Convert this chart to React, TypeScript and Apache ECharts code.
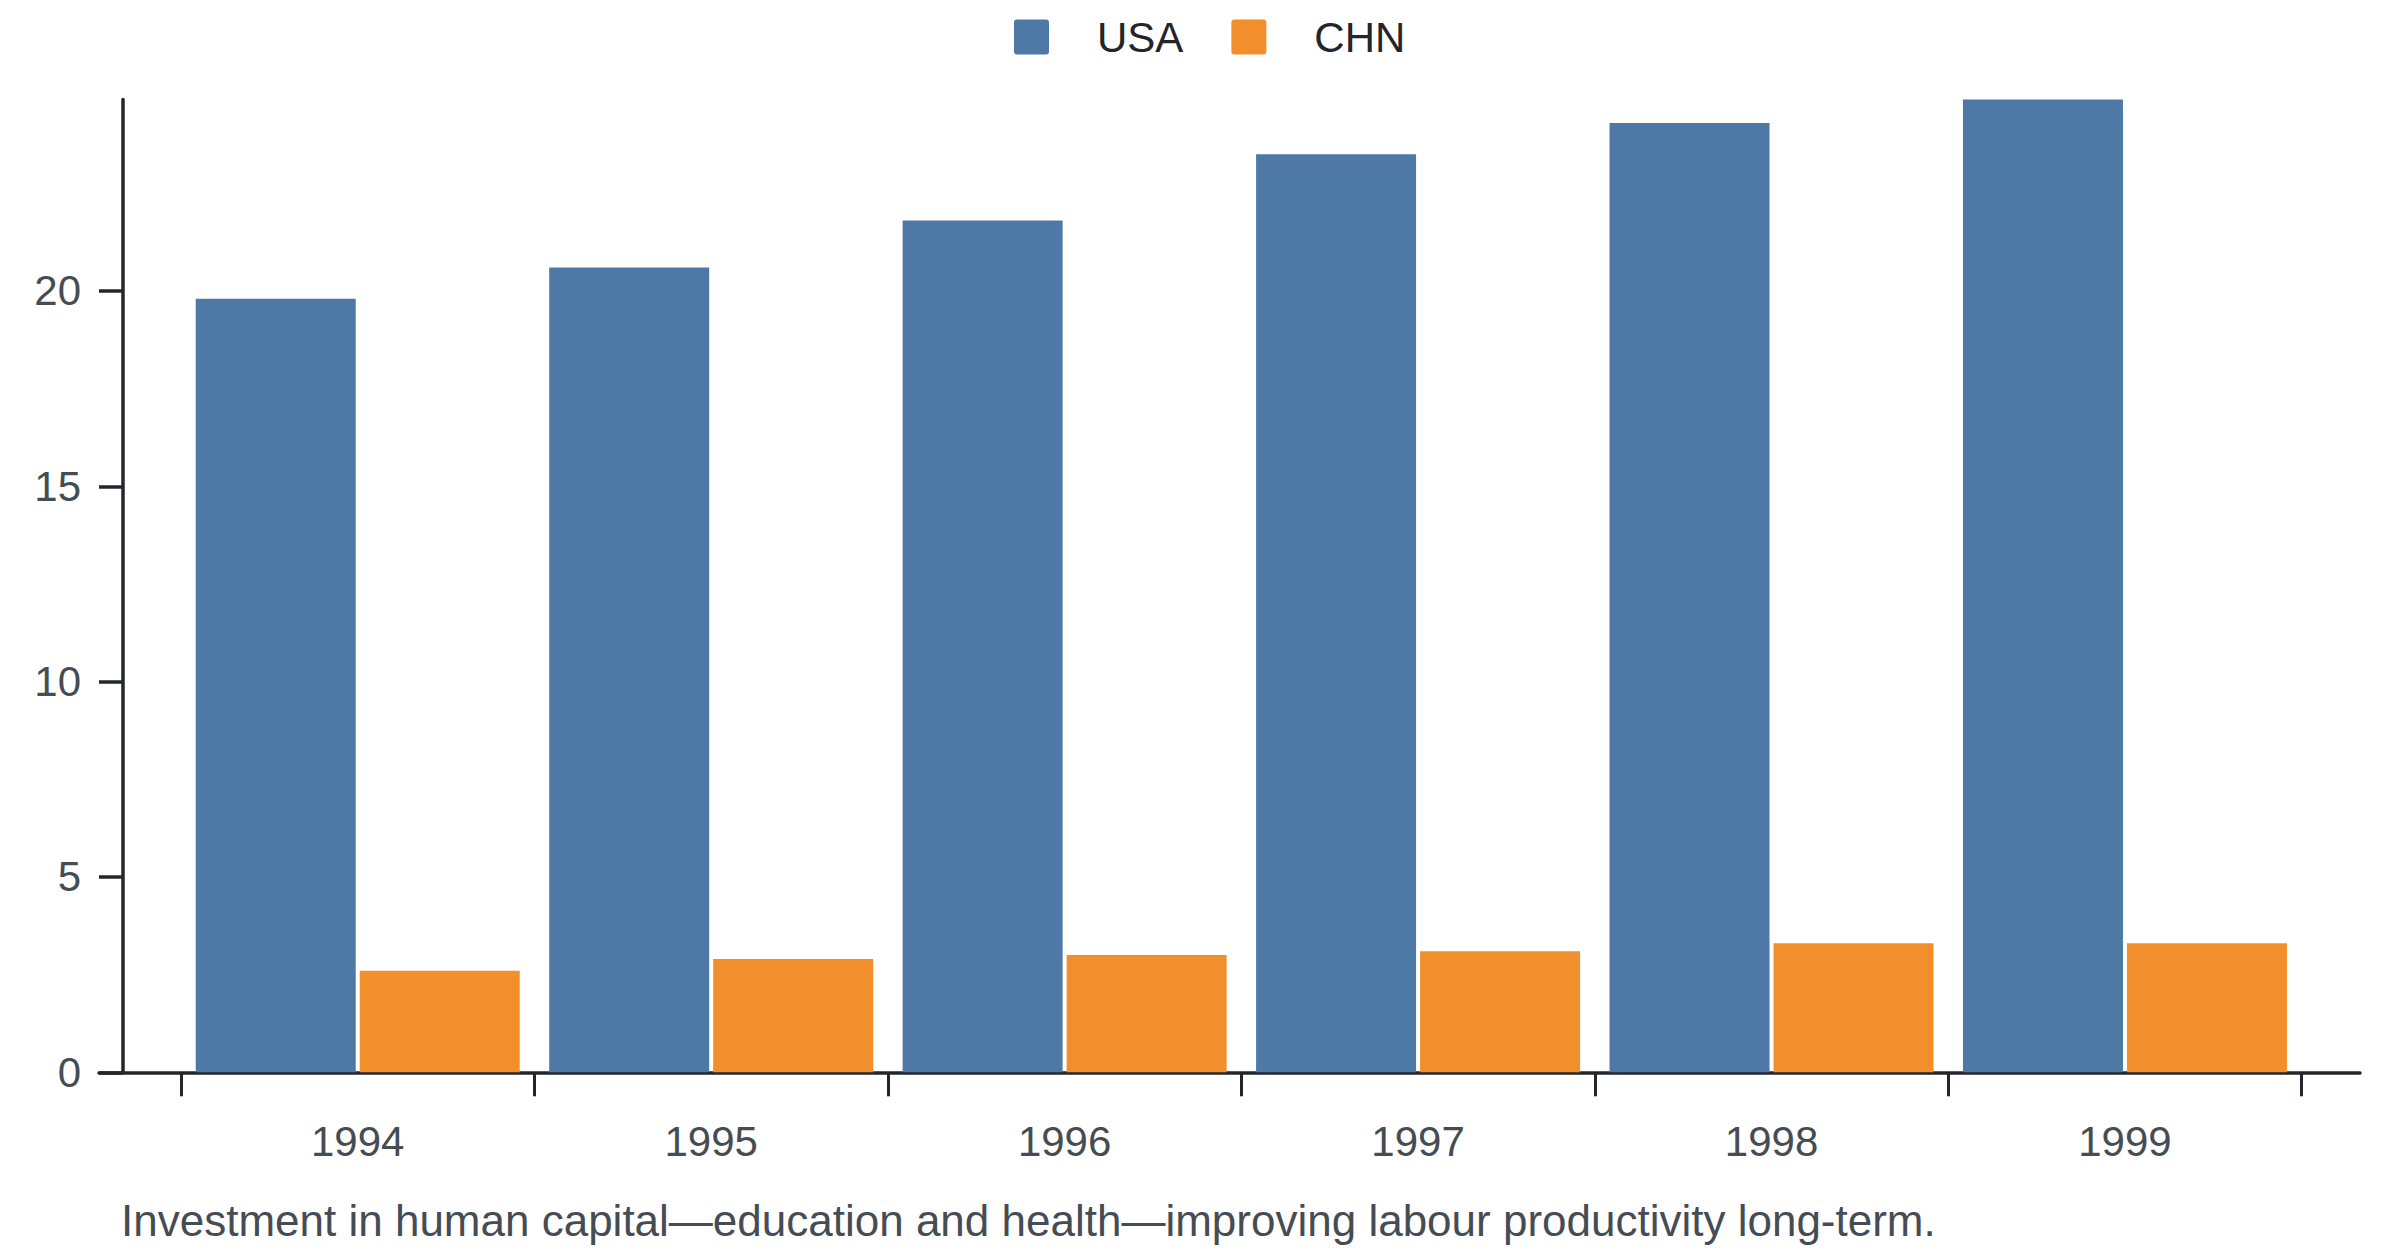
import React, { useEffect, useRef } from "react";
import * as echarts from "echarts";

const years = ["1994", "1995", "1996", "1997", "1998", "1999"];
const usaValues = [19.8, 20.6, 21.8, 23.5, 24.3, 24.9];
const chnValues = [2.6, 2.9, 3.0, 3.1, 3.3, 3.3];
const yTickValues = [0, 5, 10, 15, 20];
const seriesNames = ["USA", "CHN"];
const caption =
  "Investment in human capital\u2014education and health\u2014improving labour productivity long-term.";

const FONT = "'Liberation Sans', Arial, Helvetica, sans-serif";
const AXIS_COLOR = "#23272c";
const LABEL_COLOR = "#464c54";
const BLUE = "#4e79a7";
const ORANGE = "#f28e2b";

export default function App() {
  const ref = useRef<HTMLDivElement>(null);

  useEffect(() => {
    document.body.style.margin = "0";
    document.body.style.overflow = "hidden";
    if (!ref.current) return;
    const chart = echarts.init(ref.current, undefined, { renderer: "svg" });
    const yMax = Math.max(...usaValues, ...chnValues);
    const top = 99.5;
    const bottom = 183.7;

    chart.setOption({
      animation: false,
      backgroundColor: "#ffffff",
      textStyle: { fontFamily: FONT },
      legend: {
        data: seriesNames,
        left: 1009,
        top: 11,
        itemWidth: 35,
        itemHeight: 35,
        itemGap: 48,
        icon: "path://M3,0 H32 A3,3 0 0 1 35,3 V32 A3,3 0 0 1 32,35 H3 A3,3 0 0 1 0,32 V3 A3,3 0 0 1 3,0 Z",
        textStyle: {
          fontSize: 42,
          color: "#222529",
          fontFamily: FONT,
          padding: [0, 0, 0, 43],
        },
      },
      grid: [
        { left: 181, right: 98.3, top, bottom, containLabel: false },
        { left: 99, right: 40, top, bottom, containLabel: false },
      ],
      xAxis: [
        {
          type: "category",
          gridIndex: 0,
          data: years,
          boundaryGap: true,
          axisLine: { show: false },
          axisTick: {
            show: true,
            length: 24,
            lineStyle: { color: AXIS_COLOR, width: 3 },
          },
          axisLabel: {
            fontSize: 42,
            color: LABEL_COLOR,
            fontFamily: FONT,
            margin: 48,
          },
          splitLine: { show: false },
        },
        {
          type: "value",
          gridIndex: 1,
          min: 0,
          max: 1,
          axisLine: { show: true, onZero: false, lineStyle: { color: AXIS_COLOR, width: 3.5 } },
          axisTick: { show: false },
          axisLabel: { show: false },
          splitLine: { show: false },
        },
      ],
      yAxis: [
        {
          type: "value",
          gridIndex: 0,
          min: 0,
          max: yMax,
          interval: 5,
          offset: 58,
          axisLine: { show: true, lineStyle: { color: AXIS_COLOR, width: 3.5 } },
          axisTick: {
            show: true,
            length: 24,
            customValues: yTickValues,
            lineStyle: { color: AXIS_COLOR, width: 3.5 },
          },
          axisLabel: {
            fontSize: 42,
            color: LABEL_COLOR,
            fontFamily: FONT,
            margin: 42,
            customValues: yTickValues,
          },
          splitLine: { show: false },
        },
        {
          type: "value",
          gridIndex: 1,
          min: 0,
          max: 1,
          show: false,
        },
      ],
      series: [
        {
          name: seriesNames[0],
          type: "bar",
          xAxisIndex: 0,
          yAxisIndex: 0,
          data: usaValues,
          barWidth: 160,
          barGap: "2.5%",
          itemStyle: { color: BLUE },
        },
        {
          name: seriesNames[1],
          type: "bar",
          xAxisIndex: 0,
          yAxisIndex: 0,
          data: chnValues,
          barWidth: 160,
          barGap: "2.5%",
          itemStyle: { color: ORANGE },
        },
      ],
      graphic: [
        {
          type: "text",
          left: 121,
          top: 1198,
          style: {
            text: caption,
            fontSize: 44,
            fontFamily: FONT,
            fill: LABEL_COLOR,
          },
        },
      ],
    });

    return () => {
      chart.dispose();
    };
  }, []);

  return <div ref={ref} style={{ width: 2400, height: 1256 }} />;
}
